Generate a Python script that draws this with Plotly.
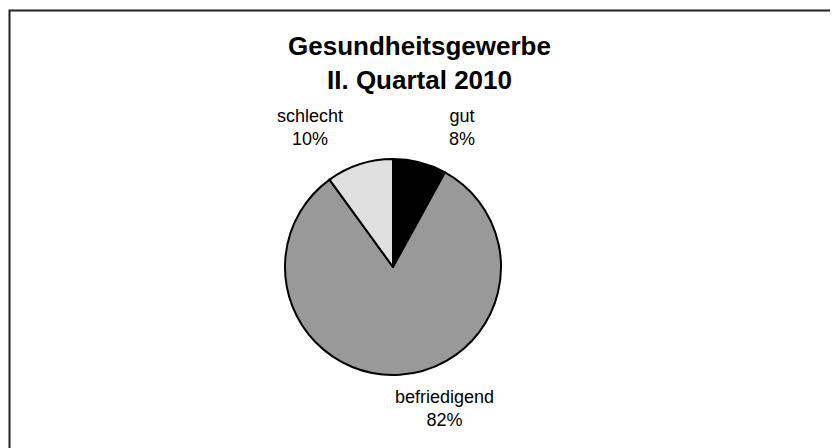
import plotly.graph_objects as go

title_lines = ["Gesundheitsgewerbe", "II. Quartal 2010"]
categories = ["gut", "befriedigend", "schlecht"]
values = [8, 82, 10]
colors = ["#000000", "#999999", "#e0e0e0"]

W, H = 838, 448
cx, cy, r = 385, 259, 108

fig = go.Figure(go.Pie(
    labels=categories,
    values=values,
    sort=False,
    direction="clockwise",
    rotation=0,
    textinfo="none",
    hoverinfo="label+percent",
    marker=dict(colors=colors, line=dict(color="#000000", width=2)),
    domain=dict(x=[(cx - r) / W, (cx + r) / W], y=[1 - (cy + r) / H, 1 - (cy - r) / H]),
    showlegend=False,
))

label_pos = {"gut": (454, 119), "schlecht": (302, 119), "befriedigend": (436, 400)}
total = sum(values)
for c, v in zip(categories, values):
    x, y = label_pos[c]
    fig.add_annotation(
        x=x / W, y=1 - y / H, xref="paper", yref="paper",
        text=f"{c}<br>{round(100 * v / total)}%",
        showarrow=False, xanchor="center", yanchor="middle",
        font=dict(family="Liberation Sans, Arial", size=18, color="#000000"),
    )

fig.add_annotation(
    x=411 / W, y=1 - 55 / H, xref="paper", yref="paper",
    text="<b>" + "<br>".join(title_lines) + "</b>",
    showarrow=False, xanchor="center", yanchor="middle",
    font=dict(family="Liberation Sans, Arial", size=26, color="#000000"),
)

fig.add_shape(type="rect", xref="paper", yref="paper",
              x0=1.5 / W, x1=1.05, y0=-0.05, y1=1 - 2.5 / H,
              line=dict(color="#222222", width=2))

fig.update_layout(
    width=W, height=H,
    margin=dict(l=0, r=0, t=0, b=0),
    paper_bgcolor="#ffffff", plot_bgcolor="#ffffff",
)
fig.write_html("out.html")
